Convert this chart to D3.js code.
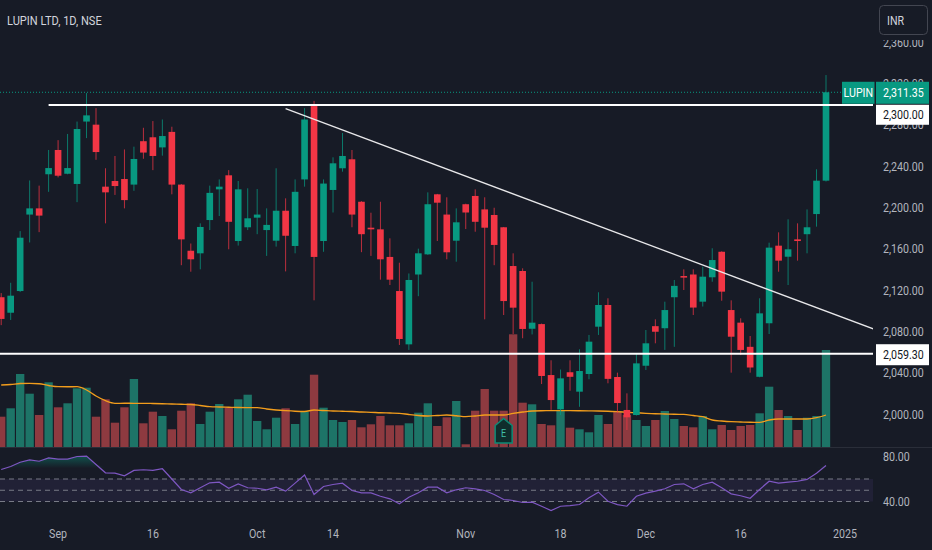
<!DOCTYPE html>
<html>
<head>
<meta charset="utf-8">
<script src="https://cdnjs.cloudflare.com/ajax/libs/d3/7.8.5/d3.min.js"></script>
<style>
  html, body { margin: 0; padding: 0; background: #171b26; }
  svg { display: block; }
</style>
</head>
<body>
<script>
// ---- data ----
var dates = [
  "2024-08-23","2024-08-26","2024-08-27","2024-08-28","2024-08-29","2024-08-30",
  "2024-09-02","2024-09-03","2024-09-04","2024-09-05","2024-09-06",
  "2024-09-09","2024-09-10","2024-09-11","2024-09-12","2024-09-13",
  "2024-09-16","2024-09-17","2024-09-18","2024-09-19","2024-09-20",
  "2024-09-23","2024-09-24","2024-09-25","2024-09-26","2024-09-27","2024-09-30",
  "2024-10-01","2024-10-03","2024-10-04",
  "2024-10-07","2024-10-08","2024-10-09","2024-10-10","2024-10-11",
  "2024-10-14","2024-10-15","2024-10-16","2024-10-17","2024-10-18",
  "2024-10-21","2024-10-22","2024-10-23","2024-10-24","2024-10-25",
  "2024-10-28","2024-10-29","2024-10-30","2024-10-31",
  "2024-11-01",
  "2024-11-04","2024-11-05","2024-11-06","2024-11-07","2024-11-08",
  "2024-11-11","2024-11-12","2024-11-13","2024-11-14",
  "2024-11-18","2024-11-19","2024-11-21","2024-11-22",
  "2024-11-25","2024-11-26","2024-11-27","2024-11-28","2024-11-29",
  "2024-12-02","2024-12-03","2024-12-04","2024-12-05","2024-12-06",
  "2024-12-09","2024-12-10","2024-12-11","2024-12-12","2024-12-13",
  "2024-12-16","2024-12-17","2024-12-18","2024-12-19","2024-12-20",
  "2024-12-23","2024-12-24","2024-12-26","2024-12-27",
  "2024-12-30"
];
var futureDates = ["2024-12-31","2025-01-01","2025-01-02","2025-01-03","2025-01-06"];

var opens = [2113,2098,2119,2193,2199,2232,2255.5,2232.5,2222.6,2283,2280,2220,2225.5,2227.4,2222,2264,2267.8,2258,2273,2222,
  2158,2155.5,2187.7,2217.4,2231,2167.4,2180.7,2190,2178,2167.7,2196.7,2162.6,2227,2298,2167.4,2216.8,2237.8,2246.5,2205.4,2180.3,
  2178.7,2152,2119,2067.4,2135,2154.5,2212.6,2193,2167.7,2203,2211,2198,2192.6,2180.7,2143.2,2138.4,2082.5,2087,2037.7,2004.5,
  2040.4,2021.6,2038.7,2084.5,2105.5,2035.8,2003.9,1999,2046.7,2085,2083,2113,2133.5,2135,2108.7,2132.3,2157,2100.6,2088.4,2065,
  2036,2087.8,2162.9,2152.2,2169,2174,2193.5,2225.8];
var highs = [2117,2127,2177,2226,2221,2255.5,2265,2271,2283,2310.6,2296,2237.8,2249.7,2256,2258.7,2277,2283.5,2285,2278,2222.5,
  2165,2184.5,2221,2227,2236,2225.5,2218.4,2217.7,2199,2237.8,2208.7,2227,2296,2303,2227,2248.4,2272,2255.5,2206,2194.8,
  2205.4,2170,2146.4,2136,2160,2214.5,2213,2209.7,2199,2203.5,2217.4,2209.7,2199.6,2181,2155.5,2141,2128,2087.5,2052,2043,
  2052,2062.6,2076.5,2117.8,2112,2040,2020,2058.7,2081.3,2091.6,2108.7,2129.7,2140,2140,2142.5,2160.4,2157.5,2110,2092.6,2075.5,
  2112,2165.8,2175.8,2188.4,2184.5,2198,2236.8,2328];
var lows = [2086,2091,2118,2166,2176,2215,2229,2232,2205,2267,2246,2184.5,2212,2199,2216,2247,2236,2250,2212.6,2144,
  2137.7,2140,2178,2191.6,2159.4,2163,2178,2174,2153,2162,2138,2155.5,2220,2110,2157,2195,2234.5,2180.7,2156.6,2153,
  2130,2124.8,2066.8,2062,2114,2154,2167.4,2149.7,2147.4,2179,2176.4,2091.6,2144,2095.8,2077.4,2073.3,2077,2029,2004,1999,
  2022.5,2007,2033.6,2076.5,2029.7,2001,1984.5,1998.5,2042.6,2068.4,2062,2065,2120,2095.8,2104,2128,2109.6,2040,2057,2040,
  2035.5,2077.4,2137.7,2124.8,2148.4,2155.5,2181.3,2225];
var closes = [2092,2114.5,2170.6,2199,2192,2238,2230.6,2238,2275.8,2289,2253.5,2214.5,2220.6,2207,2246.8,2253,2249.7,2269,2222,2169,
  2149.7,2181,2214,2220,2186,2217.4,2189.4,2193,2183,2196.7,2172.5,2215,2285,2152,2223,2242.6,2249.7,2193,2174,2178.7,
  2149.7,2130,2072.6,2129.7,2155.5,2203,2204.5,2156.5,2185.5,2195,2186,2180.3,2163.6,2109.3,2102.9,2082.3,2088.4,2036.8,2013.5,2034.5,
  2036,2041.6,2070,2105.5,2034,2010.6,1996.8,2049,2068.4,2079.6,2100.6,2124,2132,2103,2132.9,2149,2118.4,2074.8,2062,2045,
  2097.4,2161,2148.4,2159.4,2167.4,2180.7,2225.8,2311.35];

// volume in thousand shares
var volumes = [1212,1548,2920,2132,1280,2588,1588,1748,2348,2372,1212,1908,972,1588,2720,948,1412,1240,708,1452,
  1748,920,1412,1720,1588,1908,2092,1040,708,1172,1548,920,1412,2892,1572,1080,1000,1080,788,908,
  1240,868,868,948,1372,1748,840,1188,1840,108,1452,2320,1452,1452,4508,1772,1708,920,868,1440,
  772,708,588,1280,920,1412,1280,1080,840,1080,1440,1120,840,788,1240,708,880,680,840,880,
  1348,2412,1480,1240,680,1172,1240,3880];
var volumeMA = [2480,2500,2540,2548,2530,2460,2412,2410,2412,2280,2040,1852,1748,1750,1748,1748,1740,1730,1720,1710,
  1700,1660,1612,1600,1590,1580,1575,1572,1520,1480,1452,1430,1420,1480,1460,1440,1430,1420,1400,1388,
  1370,1360,1348,1300,1260,1240,1260,1280,1250,1212,1240,1280,1280,1280,1348,1400,1440,1450,1452,1452,
  1452,1450,1445,1440,1430,1412,1390,1370,1348,1330,1320,1310,1308,1260,1212,1080,1040,1012,1000,990,
  988,1080,1120,1120,1120,1120,1172,1280];
var rsi = [68.4,71.1,74.9,77.0,75.8,78.8,77.6,77.6,80.0,80.3,72.9,65.5,65.2,62.8,67.6,68.2,67.6,69.1,60.0,50.7,
  47.7,52.2,56.6,57.2,51.8,55.7,52.2,51.8,50.4,52.7,49.2,56.3,63.5,46.2,53.3,55.1,56.3,49.8,47.7,47.7,
  44.7,42.4,38.0,43.8,47.7,52.7,52.7,47.7,50.4,52.2,51.3,49.8,46.2,41.8,40.9,39.1,39.4,35.8,32.0,35.8,
  36.4,37.3,43.3,48.3,40.2,37.2,35.8,44.7,47.4,49.2,51.3,55.1,55.7,51.3,55.1,57.2,52.2,46.8,45.1,42.9,
  50.7,58.0,56.3,57.2,58.0,59.6,65.2,72.0];

var priceTicks = [2000,2040,2080,2120,2160,2200,2240,2280,2320,2360];
var rsiTicks = [80,40];
var rsiLevels = [60,50,40];
var rsiOverbought = 70;
var tickDates = ["2024-09-02","2024-09-16","2024-10-01","2024-10-14","2024-11-01","2024-11-18","2024-12-02","2024-12-16","2025-01-01"];
var tickLabels = ["Sep","16","Oct","14","Nov","18","Dec","16","2025"];

var symbol = "LUPIN";
var title = "LUPIN LTD, 1D, NSE";
var lastPrice = 2311.35;
var resistance = {from: "2024-08-30", price: 2300};
var support = {price: 2059.3};
var trendStart = {date: "2024-10-07", price: 2295.5};
var trendEnd = {date: "2025-01-06", price: 2082.3};
var earningsDate = "2024-11-07";

// ---- layout ----
var W = 932, H = 550;
var plotRight = 873, mainBottom = 447, rsiBottom = 516;
var up = "#089981", down = "#f23645";
var textCol = "#b2b5be";
var sx = 0.82; // the screenshot text is narrow

var allDates = dates.concat(futureDates);
function idx(d) { return allDates.indexOf(d); }

var svg = d3.select("body").append("svg")
    .attr("width", W)
    .attr("height", H)
    .style("font-family", "Roboto, 'Noto Sans', sans-serif");

svg.append("rect").attr("width", W).attr("height", H).attr("fill", "#171b26");

var defs = svg.append("defs");
defs.append("clipPath").attr("id", "clipMain")
  .append("rect").attr("x", 0).attr("y", 0).attr("width", plotRight).attr("height", mainBottom);
defs.append("clipPath").attr("id", "clipRsi")
  .append("rect").attr("x", 0).attr("y", mainBottom).attr("width", plotRight).attr("height", rsiBottom - mainBottom + 20);

// scales
var x = d3.scaleLinear().domain([0, dates.length - 1]).range([1.2, 826]);
var step = x(1) - x(0);
var y = d3.scaleLinear().domain([2000, 2360]).range([414, 42]);
var yVol = d3.scaleLinear().domain([0, 5000]).range([mainBottom, 322]);
var yRsi = d3.scaleLinear().domain([40, 80]).range([501.5, 456.5]);

function label(g, txt, tx, ty, anchor, col, size) {
  return g.append("text")
    .attr("transform", "translate(" + tx + "," + ty + ") scale(" + sx + ",1)")
    .attr("text-anchor", anchor || "start")
    .attr("fill", col || textCol)
    .style("font-size", (size || 13) + "px")
    .text(txt);
}

var main = svg.append("g").attr("clip-path", "url(#clipMain)");

// volume bars
var vw = step * 0.88;
main.selectAll("rect.vol")
  .data(volumes)
  .enter().append("rect")
    .attr("class", "vol")
    .attr("x", function(d, i) { return x(i) - vw / 2; })
    .attr("y", function(d) { return yVol(d); })
    .attr("width", vw)
    .attr("height", function(d) { return mainBottom - yVol(d); })
    .attr("fill", function(d, i) { return closes[i] >= opens[i] ? "#1d7467" : "#8e3a40"; });

// volume moving average
main.append("path")
    .datum(volumeMA)
    .attr("fill", "none")
    .attr("stroke", "#f29d1c")
    .attr("stroke-width", 1.3)
    .attr("d", d3.line().x(function(d, i) { return x(i); }).y(function(d) { return yVol(d); }).curve(d3.curveMonotoneX));

// earnings marker
var ex = x(idx(earningsDate));
main.append("path")
    .attr("d", "M" + (ex - 8.5) + ",443 L" + (ex - 8.5) + ",425.5 L" + ex + ",418.5 L" + (ex + 8.5) + ",425.5 L" + (ex + 8.5) + ",443 Z")
    .attr("fill", "#0f2d2c")
    .attr("stroke", "#0d8a75")
    .attr("stroke-width", 1.5);
label(main, "E", ex, 437, "middle", "#3fbfa8", 11);

// candles
var candles = main.selectAll("g.candle")
  .data(closes)
  .enter().append("g")
    .attr("class", "candle");

candles.append("line")
    .attr("x1", function(d, i) { return x(i); })
    .attr("x2", function(d, i) { return x(i); })
    .attr("y1", function(d, i) { return y(highs[i]); })
    .attr("y2", function(d, i) { return y(lows[i]); })
    .attr("stroke", function(d, i) { return d >= opens[i] ? up : down; })
    .attr("stroke-opacity", 0.75)
    .attr("stroke-width", 1);

var bw = step * 0.7;
candles.append("rect")
    .attr("x", function(d, i) { return x(i) - bw / 2; })
    .attr("y", function(d, i) { return y(Math.max(d, opens[i])); })
    .attr("width", bw)
    .attr("height", function(d, i) { return Math.max(1.5, Math.abs(y(d) - y(opens[i]))); })
    .attr("fill", function(d, i) { return d >= opens[i] ? up : down; });

// last price dotted line
main.append("line")
    .attr("x1", 0).attr("x2", plotRight)
    .attr("y1", y(lastPrice)).attr("y2", y(lastPrice))
    .attr("stroke", up)
    .attr("stroke-width", 1)
    .attr("stroke-dasharray", "1,2");

// horizontal levels
main.append("line")
    .attr("x1", x(idx(resistance.from))).attr("x2", plotRight)
    .attr("y1", y(resistance.price) + 1).attr("y2", y(resistance.price) + 1)
    .attr("stroke", "#ffffff").attr("stroke-width", 2);
main.append("line")
    .attr("x1", 0).attr("x2", plotRight)
    .attr("y1", y(support.price) + 1).attr("y2", y(support.price) + 1)
    .attr("stroke", "#ffffff").attr("stroke-width", 2);

// trend line
main.append("line")
    .attr("x1", x(idx(trendStart.date))).attr("y1", y(trendStart.price))
    .attr("x2", x(idx(trendEnd.date))).attr("y2", y(trendEnd.price))
    .attr("stroke", "#e8e8ea").attr("stroke-width", 1.3);

// pane separator
svg.append("line")
    .attr("x1", 0).attr("x2", W)
    .attr("y1", mainBottom + 0.5).attr("y2", mainBottom + 0.5)
    .attr("stroke", "#2a2e39").attr("stroke-width", 1);

// ---- RSI pane ----
var rsiG = svg.append("g").attr("clip-path", "url(#clipRsi)");

rsiG.append("rect")
    .attr("x", 0).attr("width", plotRight)
    .attr("y", yRsi(rsiLevels[0])).attr("height", yRsi(rsiLevels[2]) - yRsi(rsiLevels[0]))
    .attr("fill", "#7e57c2").attr("fill-opacity", 0.1);

rsiG.selectAll("line.lvl")
  .data(rsiLevels)
  .enter().append("line")
    .attr("class", "lvl")
    .attr("x1", 0).attr("x2", plotRight)
    .attr("y1", function(d) { return yRsi(d); }).attr("y2", function(d) { return yRsi(d); })
    .attr("stroke", "#787b86")
    .attr("stroke-width", 1)
    .attr("stroke-dasharray", "5,4");

var grad = defs.append("linearGradient")
    .attr("id", "obGrad")
    .attr("gradientUnits", "userSpaceOnUse")
    .attr("x1", 0).attr("x2", 0)
    .attr("y1", yRsi(81)).attr("y2", yRsi(rsiOverbought));
grad.append("stop").attr("offset", "0%").attr("stop-color", up).attr("stop-opacity", 0.45);
grad.append("stop").attr("offset", "100%").attr("stop-color", up).attr("stop-opacity", 0.02);

rsiG.append("path")
    .datum(rsi)
    .attr("fill", "url(#obGrad)")
    .attr("d", d3.area()
      .x(function(d, i) { return x(i); })
      .y0(yRsi(rsiOverbought))
      .y1(function(d) { return yRsi(Math.max(d, rsiOverbought)); }));

rsiG.append("path")
    .datum(rsi)
    .attr("fill", "none")
    .attr("stroke", "#7e57c2")
    .attr("stroke-width", 1.2)
    .attr("d", d3.line().x(function(d, i) { return x(i); }).y(function(d) { return yRsi(d); }));

// ---- axes ----
var axisG = svg.append("g");

priceTicks.forEach(function(p) {
  label(axisG, d3.format(",.2f")(p), 883, y(p) + 4.5);
});
rsiTicks.forEach(function(v) {
  label(axisG, d3.format(".2f")(v), 883, yRsi(v) + 4.5);
});
tickDates.forEach(function(d, k) {
  label(axisG, tickLabels[k], x(idx(d)), 537.5, "middle");
});

// legend
label(svg, title, 7, 25, "start", "#d1d4dc", 13.5);

// currency button
svg.append("rect").attr("x", 874).attr("y", 0).attr("width", 58).attr("height", 40).attr("fill", "#171b26");
svg.append("rect")
    .attr("x", 879.5).attr("y", 5.5).attr("width", 48).attr("height", 29).attr("rx", 4)
    .attr("fill", "#171b26").attr("stroke", "#434651");
label(svg, "INR", 887, 25, "start", "#d1d4dc", 13);

// price labels on the axis
var yl = y(lastPrice);
svg.append("rect").attr("x", 842).attr("y", yl - 10.5).attr("width", 32.5).attr("height", 22).attr("fill", up);
svg.append("rect").attr("x", 876).attr("y", yl - 10.5).attr("width", 53).attr("height", 22).attr("fill", up);
label(svg, symbol, 858.3, yl + 5, "middle", "#ffffff");
label(svg, d3.format(",.2f")(lastPrice), 883, yl + 5, "start", "#ffffff");

// resistance tag pushed below the last price tag
svg.append("rect").attr("x", 876).attr("y", yl + 12.5).attr("width", 53).attr("height", 20)
    .attr("fill", "#ffffff");
label(svg, d3.format(",.2f")(resistance.price), 883, yl + 27, "start", "#131722");

var ys = y(support.price) + 2;
svg.append("rect").attr("x", 876).attr("y", ys - 10.5).attr("width", 53).attr("height", 21)
    .attr("fill", "#ffffff");
label(svg, d3.format(",.2f")(support.price), 883, ys + 4.5, "start", "#131722");
</script>
</body>
</html>
